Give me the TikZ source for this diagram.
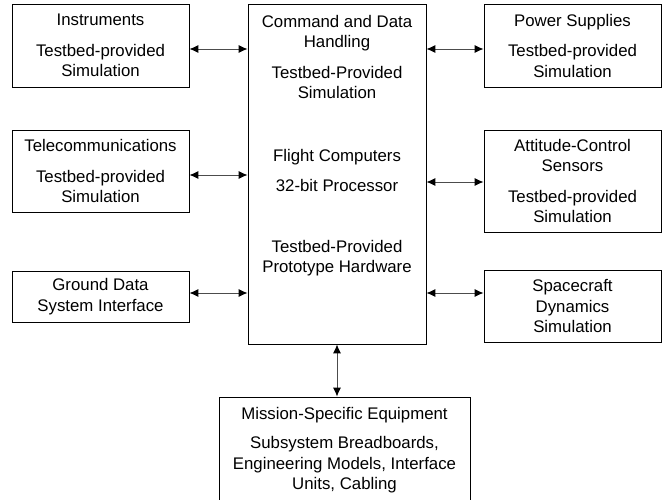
\documentclass[tikz,border=0pt]{standalone}
\usepackage{fontspec}
\setmainfont{Liberation Sans}
\usetikzlibrary{arrows.meta}
\begin{document}
\begin{tikzpicture}[x=1pt,y=-1pt,
  txt/.style={align=center, inner sep=0pt, font=\fontsize{16.8}{20.5}\selectfont},
  box/.style={txt, draw, line width=0.8pt},
  sidebox/.style={box, minimum width=177pt},
  link/.style={{Latex[length=9pt,width=8pt,color=black]}-{Latex[length=9pt,width=8pt,color=black]}, line width=0.9pt, draw=black!70}]
\useasboundingbox (0,0) rectangle (667,499);
% centre block
\node[box, minimum width=178pt, minimum height=340pt] (cdh) at (337,174) {};
\node[txt, anchor=north] (cdhtxt) at (337,14.8) {Command and Data\\Handling\\[10pt]Testbed-Provided\\Simulation\\[42pt]Flight Computers\\[10pt]32-bit Processor\\[40pt]Testbed-Provided\\Prototype Hardware};
% left column
\node[sidebox, minimum height=83pt] (instr) at (100.5,45.5) {Instruments\\[10pt]Testbed-provided\\Simulation};
\node[sidebox, minimum height=82pt] (tele) at (100.5,171) {Telecommunications\\[10pt]Testbed-provided\\Simulation};
\node[sidebox, minimum height=51pt] (gds) at (100.5,296.5) {Ground Data\\System Interface};
% right column
\node[sidebox, minimum height=83pt] (pwr) at (572.5,45.5) {Power Supplies\\[10pt]Testbed-provided\\Simulation};
\node[sidebox, minimum height=102pt] (acs) at (572.5,181) {Attitude-Control\\Sensors\\[10pt]Testbed-provided\\Simulation};
\node[sidebox, minimum height=72pt] (dyn) at (572.5,306) {Spacecraft\\Dynamics\\Simulation};
% bottom block
\node[box, minimum width=251pt, minimum height=130pt] (mse) at (344.5,462) {};
\node[txt, anchor=north] (msetxt) at (344.5,407) {Mission-Specific Equipment\\[9pt]Subsystem Breadboards,\\Engineering Models, Interface\\Units, Cabling};
% connectors
\draw[link] ([yshift=-3.5pt]instr.east) -- ([yshift=-3.5pt]instr.east -| cdh.west);
\draw[link] ([yshift=-4pt]tele.east) -- ([yshift=-4pt]tele.east -| cdh.west);
\draw[link] ([yshift=3.5pt]gds.east) -- ([yshift=3.5pt]gds.east -| cdh.west);
\draw[link] ([yshift=-3.5pt]pwr.west -| cdh.east) -- ([yshift=-3.5pt]pwr.west);
\draw[link] ([yshift=-1pt]acs.west -| cdh.east) -- ([yshift=-1pt]acs.west);
\draw[link] ([yshift=13pt]dyn.west -| cdh.east) -- ([yshift=13pt]dyn.west);
\draw[link] (cdh.south) -- (cdh.south |- mse.north);
\end{tikzpicture}
\end{document}
